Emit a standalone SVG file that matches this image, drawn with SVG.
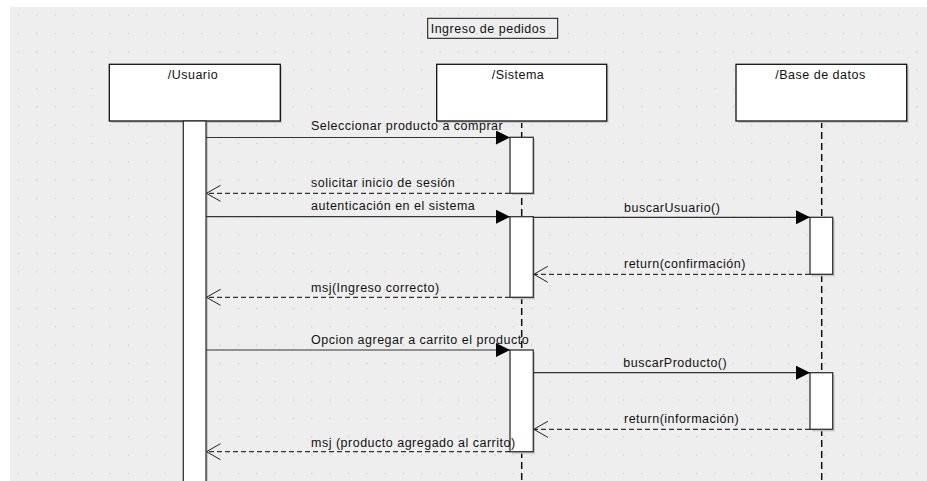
<svg xmlns="http://www.w3.org/2000/svg" width="927" height="481" viewBox="0 0 927 481">
  <defs>
    <pattern id="grid" patternUnits="userSpaceOnUse" x="9.17" y="5.83" width="18.333" height="18.333">
      <rect x="8.67" y="8.67" width="1.2" height="1.2" fill="#c4c4c4"/>
    </pattern>
    <marker id="sync" viewBox="0 0 14 14" refX="14" refY="7" markerWidth="14" markerHeight="14" markerUnits="userSpaceOnUse" orient="auto">
      <path d="M0,0 L14,7 L0,14 Z" fill="#000"/>
    </marker>
    <marker id="reply" viewBox="0 0 16 18" refX="15" refY="9" markerWidth="16" markerHeight="18" markerUnits="userSpaceOnUse" orient="auto">
      <path d="M1,1 L15,9 L1,17" fill="none" stroke="#222" stroke-width="1"/>
    </marker>
  </defs>
  <style>
    text { font-family: "Liberation Sans", Arial, sans-serif; font-size: 12.5px; letter-spacing: 0.5px; fill: #111; }
    .head { fill: #fff; stroke: #111; stroke-width: 1.3; }
    .shadow { fill: #c8c8c8; }
    .bar { fill: #fff; stroke: #333; stroke-width: 1.3; }
    .life { stroke: #111; stroke-width: 1.5; stroke-dasharray: 7 4; fill: none; }
    .call { stroke: #333; stroke-width: 1.2; fill: none; marker-end: url(#sync); }
    .ret { stroke: #333; stroke-width: 1.2; stroke-dasharray: 5 3; fill: none; marker-end: url(#reply); }
    .mid { text-anchor: middle; }
  </style>

  <!-- canvas -->
  <rect width="927" height="481" fill="#fff"/>
  <rect x="10" y="7" width="917" height="474" fill="#eeeeee"/>
  <rect x="10" y="7" width="917" height="474" fill="url(#grid)"/>

  <!-- frame title -->
  <g id="title">
    <rect x="427.7" y="18.3" width="130" height="20" fill="none" stroke="#111" stroke-width="1"/>
    <text x="430.7" y="33">Ingreso de pedidos</text>
  </g>

  <!-- lifelines -->
  <g id="lifelines">
    <line class="life" x1="521.7" y1="121" x2="521.7" y2="481"/>
    <line class="life" x1="821.7" y1="121" x2="821.7" y2="481"/>
  </g>

  <g id="usuario">
    <rect class="shadow" x="111" y="66" width="171" height="57"/>
    <rect class="head" x="109.3" y="64.3" width="171" height="56.7"/>
    <text class="mid" x="193" y="79">/Usuario</text>
    <rect class="shadow" x="185" y="123" width="23" height="360"/>
    <rect class="bar" x="183.3" y="121" width="22.7" height="362"/>
  </g>

  <g id="sistema">
    <rect class="shadow" x="438.5" y="66" width="170" height="57"/>
    <rect class="head" x="436.7" y="64.3" width="170" height="56.7"/>
    <text class="mid" x="518" y="79">/Sistema</text>
    <rect class="shadow" x="512" y="139" width="23" height="56"/>
    <rect class="bar" x="510" y="137.3" width="23.3" height="56"/>
    <rect class="shadow" x="512" y="218.7" width="23" height="80.6"/>
    <rect class="bar" x="510" y="216.7" width="23.3" height="80.6"/>
    <rect class="shadow" x="512" y="352" width="23" height="101.7"/>
    <rect class="bar" x="510" y="350" width="23.3" height="101.7"/>
  </g>

  <g id="base-de-datos">
    <rect class="shadow" x="738" y="66" width="170.7" height="57"/>
    <rect class="head" x="736" y="64.3" width="170.7" height="56.7"/>
    <text class="mid" x="820.5" y="79">/Base de datos</text>
    <rect class="shadow" x="812" y="219.3" width="22.7" height="57"/>
    <rect class="bar" x="810" y="217.3" width="22.7" height="57"/>
    <rect class="shadow" x="812" y="374.7" width="22.7" height="56.6"/>
    <rect class="bar" x="810" y="372.7" width="22.7" height="56.6"/>
  </g>

  <!-- messages -->
  <g id="messages">
    <line class="call" x1="206" y1="137.5" x2="510" y2="137.5"/>
    <text x="311" y="130">Seleccionar producto a comprar</text>

    <line class="ret" x1="510" y1="193.3" x2="206.5" y2="193.3"/>
    <text x="311" y="187">solicitar inicio de sesión</text>

    <line class="call" x1="206" y1="216.7" x2="510" y2="216.7"/>
    <text x="311" y="210">autenticación en el sistema</text>

    <line class="call" x1="533.3" y1="217.3" x2="810" y2="217.3"/>
    <text x="624" y="211.5">buscarUsuario()</text>

    <line class="ret" x1="810" y1="274.3" x2="533.8" y2="274.3"/>
    <text x="624" y="268">return(confirmación)</text>

    <line class="ret" x1="510" y1="297.3" x2="206.5" y2="297.3"/>
    <text x="311" y="291.5">msj(Ingreso correcto)</text>

    <line class="call" x1="206" y1="350" x2="510" y2="350"/>
    <text x="311" y="344">Opcion agregar a carrito el producto</text>

    <line class="call" x1="533.3" y1="372.7" x2="810" y2="372.7"/>
    <text x="623.3" y="366.5">buscarProducto()</text>

    <line class="ret" x1="810" y1="429.3" x2="533.8" y2="429.3"/>
    <text x="624" y="423">return(información)</text>

    <line class="ret" x1="510" y1="451.7" x2="206.5" y2="451.7"/>
    <text x="311" y="446.5">msj (producto agregado al carrito)</text>
  </g>
</svg>
